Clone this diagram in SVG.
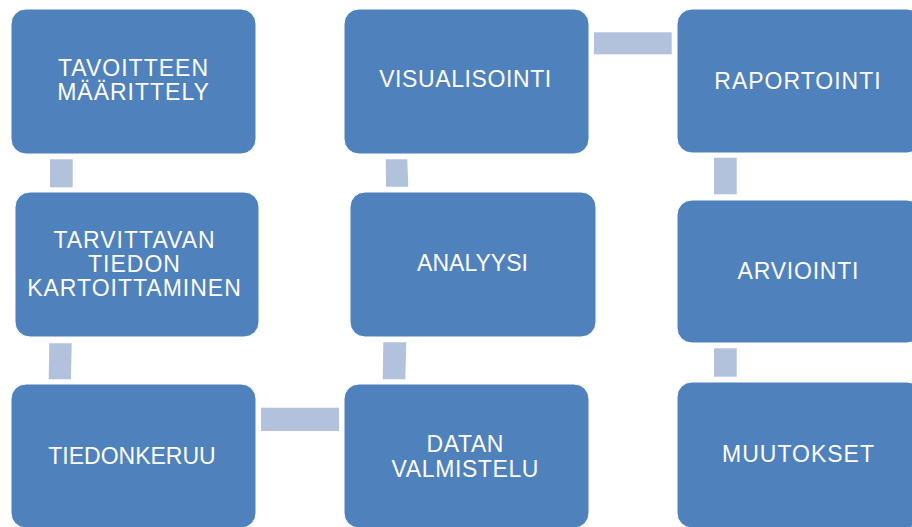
<svg xmlns="http://www.w3.org/2000/svg" width="912" height="527" viewBox="0 0 912 527">
<style>
.box{fill:#4F81BD;stroke:#FFFFFF;stroke-width:1}
.con{fill:#B3C2DC}
.lbl{font-family:"Liberation Sans",Arial,sans-serif;font-size:23px;fill:#FFFFFF;text-anchor:middle}
.ls1{letter-spacing:1px}
.ls05{letter-spacing:0.6px}
</style>
<rect x="0" y="0" width="912" height="527" fill="#FFFFFF"/>
<g id="connectors">
<rect class="con" x="50" y="159.3" width="22.7" height="28"/>
<polygon class="con" points="49.3,343.3 71.7,343.3 71,379.3 48.7,379.3"/>
<rect class="con" x="261" y="407.7" width="78" height="23.3"/>
<polygon class="con" points="383.3,342.3 406.3,342.3 405.3,379.3 382.7,379.3"/>
<polygon class="con" points="385.7,159.3 407.3,159.3 408.3,186.7 386,186.7"/>
<rect class="con" x="594" y="32.3" width="77.7" height="22"/>
<rect class="con" x="714" y="157.7" width="22.7" height="36.6"/>
<rect class="con" x="714" y="348.3" width="22.7" height="28.4"/>
</g>
<g id="n1">
<rect class="box" x="11" y="9" width="245" height="145" rx="15"/>
<text class="lbl ls1" x="133.5" y="76">TAVOITTEEN</text>
<text class="lbl ls1" x="133.5" y="100">MÄÄRITTELY</text>
</g>
<g id="n2">
<rect class="box" x="15" y="192" width="244" height="145" rx="15"/>
<text class="lbl ls1" x="134.5" y="248">TARVITTAVAN</text>
<text class="lbl ls1" x="134.5" y="272">TIEDON</text>
<text class="lbl ls1" x="134.5" y="296">KARTOITTAMINEN</text>
</g>
<g id="n3">
<rect class="box" x="11" y="384" width="245" height="144" rx="15"/>
<text class="lbl" x="132" y="464">TIEDONKERUU</text>
</g>
<g id="n4">
<rect class="box" x="344" y="384" width="245" height="144" rx="15"/>
<text class="lbl ls05" x="465.3" y="451.7">DATAN</text>
<text class="lbl ls05" x="465.3" y="476.7">VALMISTELU</text>
</g>
<g id="n5">
<rect class="box" x="350" y="192" width="246" height="145" rx="15"/>
<text class="lbl" x="472.5" y="270.7">ANALYYSI</text>
</g>
<g id="n6">
<rect class="box" x="344" y="9" width="245" height="145" rx="15"/>
<text class="lbl" x="465.5" y="87.3" letter-spacing="0.6">VISUALISOINTI</text>
</g>
<g id="n7">
<rect class="box" x="677" y="9" width="245" height="144" rx="15"/>
<text class="lbl ls1" x="798" y="89">RAPORTOINTI</text>
</g>
<g id="n8">
<rect class="box" x="677" y="200" width="245" height="143" rx="15"/>
<text class="lbl" x="798.4" y="279.3" letter-spacing="0.8">ARVIOINTI</text>
</g>
<g id="n9">
<rect class="box" x="677" y="382" width="245" height="146" rx="15"/>
<text class="lbl ls1" x="798.5" y="461.7">MUUTOKSET</text>
</g>
</svg>
